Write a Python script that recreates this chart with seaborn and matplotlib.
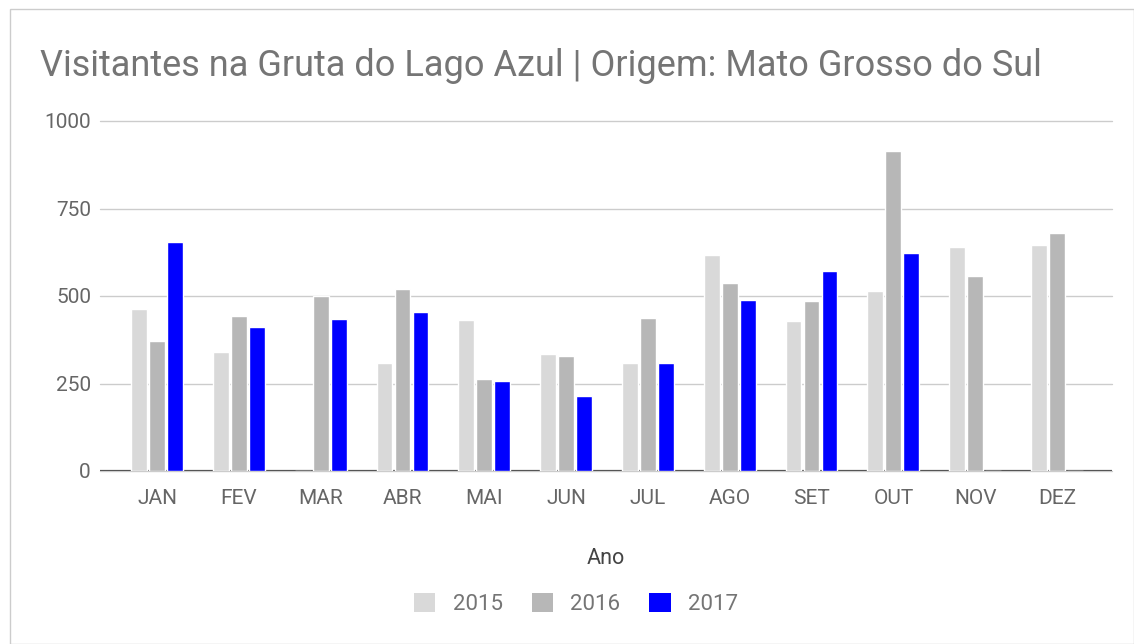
import pandas as pd
import matplotlib.pyplot as plt
import seaborn as sns
from matplotlib.patches import Rectangle, Patch

# data
meses = ["JAN", "FEV", "MAR", "ABR", "MAI", "JUN", "JUL", "AGO", "SET", "OUT", "NOV", "DEZ"]
v2015 = [463, 339, 0, 308, 432, 334, 309, 618, 428, 515, 640, 645]
v2016 = [371, 443, 500, 520, 263, 329, 438, 536, 485, 913, 557, 681]
v2017 = [655, 412, 433, 454, 257, 215, 309, 490, 572, 624, 0, 0]
anos = ["2015", "2016", "2017"]
cores = ["#d9d9d9", "#b7b7b7", "#0000ff"]

df = pd.DataFrame({
    "Mes": meses * 3,
    "Ano": [a for a in anos for _ in meses],
    "Visitantes": v2015 + v2016 + v2017,
})

sns.set_theme(style="white")
plt.rcParams["font.family"] = ["Roboto", "DejaVu Sans"]

fig = plt.figure(figsize=(11.34, 6.44), dpi=100)
ax = fig.add_axes([100 / 1134, 1 - 471 / 644, 1012 / 1134, 350 / 644])

sns.barplot(data=df, x="Mes", y="Visitantes", hue="Ano", palette=cores,
            width=0.66, gap=0.12, saturation=1, ax=ax, legend=False, zorder=3)

ax.set_xlim(-0.697, 11.672)
ax.set_ylim(0, 1000)
ax.set_yticks([0, 250, 500, 750, 1000])
ax.yaxis.grid(True, color="#cccccc", linewidth=1, zorder=0)
ax.axhline(0, color="#555555", linewidth=1.6, zorder=2)
for s in ax.spines.values():
    s.set_visible(False)
for gl in ax.get_ygridlines():
    gl.set_clip_on(False)

ax.tick_params(axis="both", length=0, labelsize=15, labelcolor="#666666")
ax.tick_params(axis="y", pad=6.5)
ax.tick_params(axis="x", pad=13)
ax.set_ylabel("")
ax.set_xlabel("Ano", fontsize=15.5, color="#444444", labelpad=29)

fig.text(40 / 1134, 1 - 66 / 644, "Visitantes na Gruta do Lago Azul | Origem: Mato Grosso do Sul",
         fontsize=26, color="#757575", va="center", ha="left")

handles = [Patch(facecolor=c, edgecolor="none") for c in cores]
fig.legend(handles, anos, loc="center", bbox_to_anchor=(0.508, 1 - 604 / 644), ncol=3,
           frameon=False, fontsize=16, labelcolor="#757575", handlelength=0.95,
           handleheight=0.95, columnspacing=1.3, handletextpad=0.8)

fig.patches.append(Rectangle((10 / 1134, 0), 1 - 10 / 1134, 1 - 9 / 644, transform=fig.transFigure,
                             fill=False, edgecolor="#cccccc", linewidth=1))

fig.savefig("out.png", dpi=100)
